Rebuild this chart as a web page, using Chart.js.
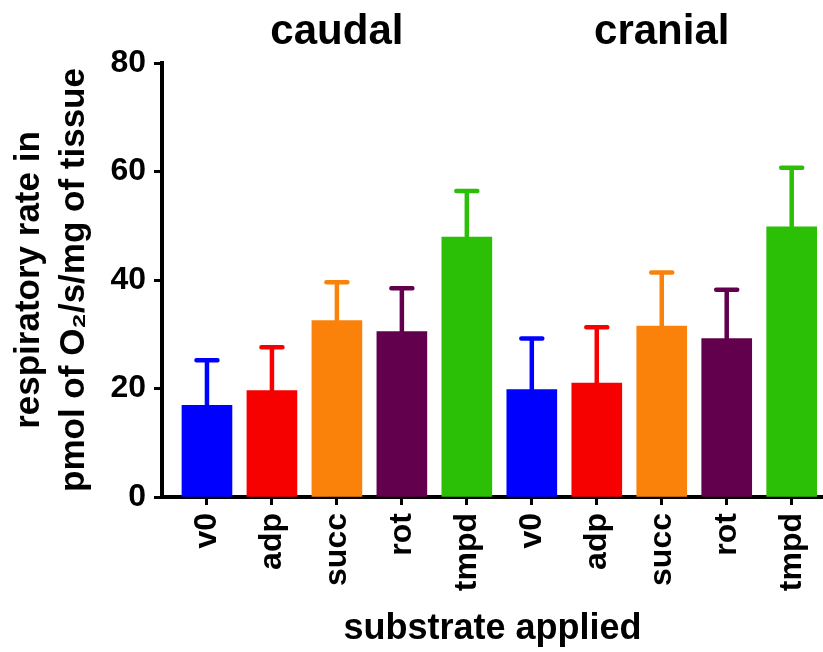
<!DOCTYPE html>
<html>
<head>
<meta charset="utf-8">
<script src="https://cdn.jsdelivr.net/npm/chart.js@4.4.0/dist/chart.umd.min.js"></script>
<style>
  html, body { margin: 0; padding: 0; background: #fff; overflow: hidden; }
</style>
</head>
<body>
<canvas id="chart" width="823" height="652"></canvas>
<script>
// values (mean, upper error)
const groups = ["caudal", "cranial"];
const substrates = ["v0", "adp", "succ", "rot", "tmpd", "v0", "adp", "succ", "rot", "tmpd"];
const meanRate = [16.9, 19.6, 32.5, 30.5, 47.9, 19.8, 21.0, 31.5, 29.2, 49.8];
const errRate = [8.3, 8.0, 7.1, 8.0, 8.5, 9.4, 10.3, 9.9, 9.0, 10.9];
const yTicks = [0, 20, 40, 60, 80];

const palette = ["#0000ff", "#f70000", "#fa820a", "#62004d", "#2bbf05"];
const barColors = substrates.map((_, i) => palette[i % palette.length]);
const FONT = "'Liberation Sans', Arial, Helvetica, sans-serif";

const errorBars = {
  id: "errorBars",
  afterDatasetsDraw(chart) {
    const { ctx, scales: { x, y } } = chart;
    ctx.save();
    ctx.lineWidth = 4.5;
    ctx.lineCap = "round";
    meanRate.forEach((m, i) => {
      const px = x.getPixelForValue(i);
      const top = y.getPixelForValue(m + errRate[i]);
      ctx.strokeStyle = barColors[i];
      ctx.beginPath();
      ctx.moveTo(px, y.getPixelForValue(m));
      ctx.lineTo(px, top);
      ctx.moveTo(px - 10.5, top);
      ctx.lineTo(px + 10.5, top);
      ctx.stroke();
    });
    ctx.restore();
  }
};

const groupTitles = {
  id: "groupTitles",
  afterDraw(chart) {
    const { ctx, scales: { x } } = chart;
    ctx.save();
    ctx.font = "bold 42px " + FONT;
    ctx.fillStyle = "#000";
    ctx.textAlign = "center";
    ctx.textBaseline = "alphabetic";
    groups.forEach((g, i) => {
      ctx.fillText(g, x.getPixelForValue(i * 5 + 2), 44);
    });
    ctx.restore();
  }
};

new Chart(document.getElementById("chart"), {
  type: "bar",
  data: {
    datasets: [{
      data: meanRate.map((v, i) => ({ x: i, y: v })),
      backgroundColor: barColors,
      borderWidth: 0,
      barThickness: 50
    }]
  },
  options: {
    responsive: false,
    animation: false,
    layout: { padding: { top: 63, left: 0, right: 0, bottom: 0 } },
    plugins: { legend: { display: false }, tooltip: { enabled: false } },
    scales: {
      x: {
        type: "linear",
        offset: false,
        min: -0.692,
        max: 9.482,
        afterBuildTicks: s => { s.ticks = substrates.map((_, i) => ({ value: i })); },
        afterFit: s => { s.height = 155; s.paddingLeft = 0; s.paddingRight = 0; },
        ticks: {
          autoSkip: false,
          minRotation: 90,
          maxRotation: 90,
          padding: 8,
          color: "#000",
          font: { family: FONT, size: 32, weight: "bold" },
          callback: v => substrates[v]
        },
        grid: { offset: false, drawOnChartArea: false, tickLength: 8, tickWidth: 3, tickColor: "#000" },
        border: { color: "#000", width: 4 },
        title: {
          display: true,
          text: "substrate applied",
          color: "#000",
          font: { family: FONT, size: 36, weight: "bold" },
          padding: { top: 0, bottom: 1 }
        }
      },
      y: {
        min: 0,
        max: 80,
        afterBuildTicks: s => { s.ticks = yTicks.map(v => ({ value: v })); },
        afterFit: s => { s.width = 162; },
        ticks: {
          padding: 8,
          color: "#000",
          font: { family: FONT, size: 32, weight: "bold" }
        },
        grid: { drawOnChartArea: false, tickLength: 8, tickWidth: 3, tickColor: "#000" },
        border: { color: "#000", width: 4 },
        title: {
          display: true,
          text: ["respiratory rate in", "pmol of O\u2082/s/mg of tissue"],
          color: "#000",
          font: { family: FONT, size: 35, weight: "bold", lineHeight: 1.28 },
          padding: { top: 7, bottom: 0 }
        }
      }
    }
  },
  plugins: [errorBars, groupTitles]
});
</script>
</body>
</html>
